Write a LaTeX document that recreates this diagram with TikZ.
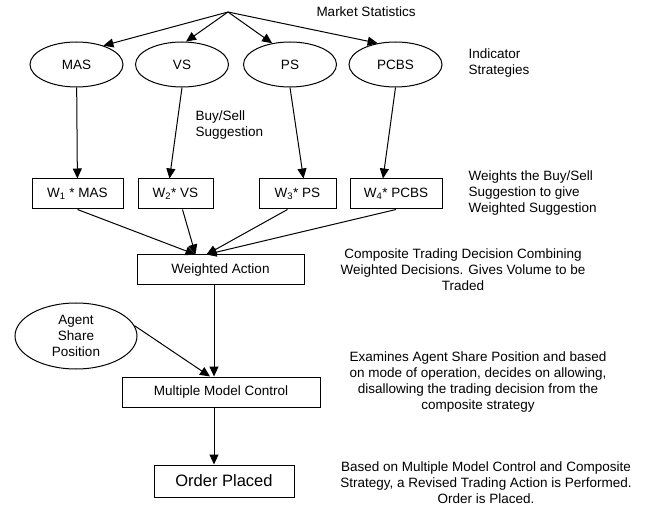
\documentclass[tikz,border=0pt]{standalone}
\usepackage{fontspec}
\setmainfont{Liberation Sans}
\usetikzlibrary{positioning,shapes.geometric,arrows.meta}

\begin{document}
\begin{tikzpicture}[x=1pt,y=-1pt,line width=1pt,
  >={Triangle[length=10pt,width=9pt]},
  every node/.style={font=\fontsize{13.5}{16}\selectfont},
  strat/.style={draw,ellipse,minimum width=93pt,minimum height=45pt,inner sep=0pt,align=center},
  wbox/.style={draw,rectangle,minimum height=30pt,inner sep=0pt},
  note/.style={align=left,anchor=west,inner sep=0pt},
  remark/.style={align=center,inner sep=0pt}]
\useasboundingbox (0,0) rectangle (649,508);
\coordinate (market) at (228,12);
\node[note] (marketlbl) at (316,12) {Market Statistics};
\node[strat] (mas) at (76.5,64.5) {MAS};
\node[strat] (vs) at (182,64.5) {VS};
\node[strat] (ps) at (290,64.5) {PS};
\node[strat] (pcbs) at (395.5,64.5) {PCBS};
\node[note] (indicator) at (468,63) {Indicator\\Strategies};
\node[note] (suggest) at (195,125) {Buy/Sell\\Suggestion};
\node[wbox,minimum width=91pt] (w1) at (77.5,194) {W\textsubscript{1} * MAS};
\node[wbox,minimum width=75pt] (w2) at (175.5,194) {W\textsubscript{2}* VS};
\node[wbox,minimum width=77pt] (w3) at (297.5,194) {W\textsubscript{3}* PS};
\node[wbox,minimum width=92pt] (w4) at (396,194) {W\textsubscript{4}* PCBS};
\node[note] (weights) at (468,193.5) {Weights the Buy/Sell\\Suggestion to give\\Weighted Suggestion};
\node[wbox,minimum width=167pt] (weighted) at (220.5,270) {Weighted Action};
\node[remark] (composite) at (463,269.5) {Composite Trading Decision Combining\\Weighted Decisions. Gives Volume to be\\Traded};
\node[strat,minimum width=122pt,minimum height=66pt] (agent) at (76,336) {Agent\\Share\\Position};
\node[wbox,minimum width=198pt] (control) at (221,392) {Multiple Model Control};
\node[remark] (examines) at (478,382.5) {Examines Agent Share Position and based\\on mode of operation, decides on allowing,\\disallowing the trading decision from the\\composite strategy};
\node[wbox,minimum width=140pt,minimum height=32pt,font=\fontsize{16.5}{20}\selectfont] (order) at (224,481) {Order Placed};
\node[remark] (based) at (486,483) {Based on Multiple Model Control and Composite\\Strategy, a Revised Trading Action is Performed.\\Order is Placed.};
% market statistics to the strategies
\draw[->] (market) -- (mas.35);
\draw[->] (market) -- (vs.80);
\draw[->] (market) -- (ps.130);
\draw[->] (market) -- (pcbs.130);
% strategies to weights
\draw[->] (mas) -- (w1);
\draw[->] (vs.south) -- ([xshift=-6pt]w2.north);
\draw[->] (ps.south) -- ([xshift=6pt]w3.north);
\draw[->] (pcbs.south) -- ([xshift=-13pt]w4.north);
% weights to weighted action
\draw[->] (w1.south) -- ([xshift=-25pt]weighted.north);
\draw[->] ([xshift=7pt]w2.south) -- ([xshift=-25pt]weighted.north);
\draw[->] ([xshift=-10pt]w3.south) -- ([xshift=-14pt]weighted.north);
\draw[->] (w4.south) -- ([xshift=-14pt]weighted.north);
\draw[->] ([xshift=-6.5pt]weighted.south) -- ([xshift=-7pt]control.north);
\draw[->] (agent.10) -- ([xshift=-11pt]control.north);
\draw[->] ([xshift=-7pt]control.south) -- ([xshift=-10pt]order.north);
\end{tikzpicture}
\end{document}
